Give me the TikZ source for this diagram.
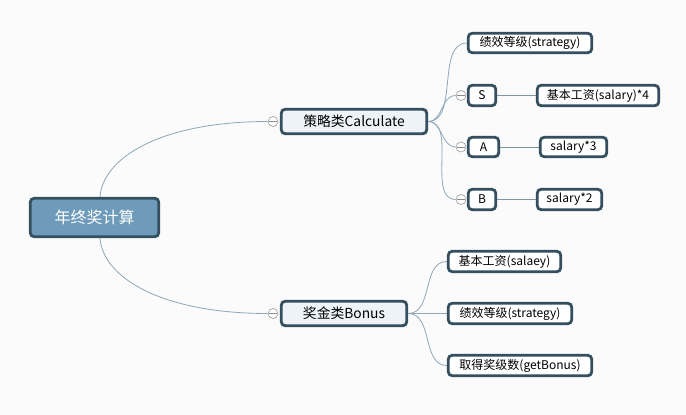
\documentclass[tikz,border=0pt]{standalone}
\usepackage{fontspec}
\setmainfont{Noto Sans CJK SC}
\usetikzlibrary{backgrounds,calc}
\definecolor{bd}{HTML}{34505F}
\definecolor{rootfill}{HTML}{6E9BBA}
\definecolor{midfill}{HTML}{EEF3F8}
\definecolor{edgec}{HTML}{8CA7BA}
\definecolor{bgc}{HTML}{FBFBFB}
\tikzset{
  box/.style={draw=bd, line width=2.8pt, rounded corners=4pt, inner sep=0pt, fill=white, font=\fontsize{12}{14}\selectfont, text=black},
  rootbox/.style={box, fill=rootfill, text=white, font=\fontsize{16}{18}\selectfont},
  midbox/.style={box, fill=midfill, font=\fontsize{13.8}{16}\selectfont},
  fold/.style={circle, draw=gray!80, fill=white, line width=0.6pt, minimum size=10pt, inner sep=0pt, path picture={\draw[gray!90, line width=0.6pt] ([xshift=-4pt]path picture bounding box.center) -- ([xshift=4pt]path picture bounding box.center);}},
  conn/.style={draw=edgec, line width=0.8pt},
}
\begin{document}
\begin{tikzpicture}[x=1pt,y=-1pt]
\useasboundingbox (0,0) rectangle (686,415);
% nodes
\node[rootbox, minimum width=128.5pt, minimum height=38.5pt] (root) at (94.5,217.5) {年终奖计算};
\node[midbox, minimum width=145.5pt, minimum height=24.5pt] (calc) at (354,121.5) {策略类Calculate};
\node[midbox, minimum width=125.5pt, minimum height=24.5pt] (bonus) at (344,313.5) {奖金类Bonus};
\node[fold] (fcalc) at (273,121.5) {};
\node[fold] (fbonus) at (273,313.5) {};
\node[box, minimum width=123.5pt, minimum height=19.5pt] (st1) at (530,43) {绩效等级(strategy)};
\node[box, minimum width=27.5pt, minimum height=20.5pt] (s) at (482,95.5) {S};
\node[box, minimum width=121.5pt, minimum height=20.5pt] (sal4) at (598,95.5) {基本工资(salary)*4};
\node[box, minimum width=30.5pt, minimum height=19.5pt] (a) at (483.5,147) {A};
\node[box, minimum width=66.5pt, minimum height=19.5pt] (sal3) at (573.5,147) {salary*3};
\node[box, minimum width=27.5pt, minimum height=20.5pt] (b) at (482,199.5) {B};
\node[box, minimum width=64.5pt, minimum height=20.5pt] (sal2) at (569.5,199.5) {salary*2};
\node[fold] (fs) at (461,95.5) {};
\node[fold] (fa) at (461,147) {};
\node[fold] (fb) at (461,199.5) {};
\node[box, minimum width=112.5pt, minimum height=20.5pt] (b1) at (504.5,261.5) {基本工资(salaey)};
\node[box, minimum width=123.5pt, minimum height=20.5pt] (b2) at (510,313.5) {绩效等级(strategy)};
\node[box, minimum width=143.5pt, minimum height=20.5pt] (b3) at (520,365.5) {取得奖级数(getBonus)};
\begin{pgfonlayer}{background}
\fill[bgc] (0,0) rectangle (686,415);
\coordinate (rt) at ([xshift=5.5pt]root.north);
\coordinate (rb) at ([xshift=5.5pt]root.south);
\draw[conn] (rt) .. controls ($(rt)+(3,-40)$) and ($(fcalc.west)+(-105,0)$) .. (fcalc.west);
\draw[conn] (rb) .. controls ($(rb)+(3,40)$) and ($(fbonus.west)+(-105,0)$) .. (fbonus.west);
\draw[conn] (calc.east) to[out=0,in=180,looseness=0.9] (st1.west);
\draw[conn] (calc.east) to[out=0,in=180] (fs.west);
\draw[conn] (calc.east) to[out=0,in=180] (fa.west);
\draw[conn] (calc.east) to[out=0,in=180,looseness=0.9] (fb.west);
\draw[conn] (bonus.east) to[out=0,in=180] (b1.west);
\draw[conn] (bonus.east) -- (b2.west);
\draw[conn] (bonus.east) to[out=0,in=180] (b3.west);
\draw[conn, draw=edgec!80!bd] (s.east) -- (sal4.west);
\draw[conn, draw=edgec!80!bd] (a.east) -- (sal3.west);
\draw[conn, draw=edgec!80!bd] (b.east) -- (sal2.west);
\end{pgfonlayer}
\end{tikzpicture}
\end{document}
